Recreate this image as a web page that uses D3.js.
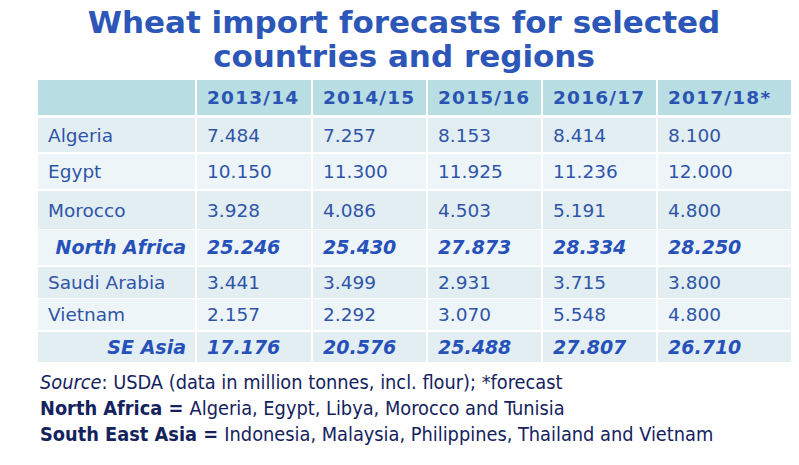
<!DOCTYPE html>
<html><head><meta charset="utf-8">
<script src="https://cdn.jsdelivr.net/npm/d3@7"></script>
<style>
html,body{margin:0;padding:0;background:#fff;}
svg{display:block;}
</style></head>
<body>
<script>
// ---- data ----
const title = ["Wheat import forecasts for selected", "countries and regions"];
const years = ["2013/14", "2014/15", "2015/16", "2016/17", "2017/18*"];
const rowLabels = ["Algeria", "Egypt", "Morocco", "North Africa", "Saudi Arabia", "Vietnam", "SE Asia"];
const totalRows = ["North Africa", "SE Asia"];
const algeria = ["7.484", "7.257", "8.153", "8.414", "8.100"];
const egypt = ["10.150", "11.300", "11.925", "11.236", "12.000"];
const morocco = ["3.928", "4.086", "4.503", "5.191", "4.800"];
const northAfrica = ["25.246", "25.430", "27.873", "28.334", "28.250"];
const saudiArabia = ["3.441", "3.499", "2.931", "3.715", "3.800"];
const vietnam = ["2.157", "2.292", "3.070", "5.548", "4.800"];
const seAsia = ["17.176", "20.576", "25.488", "27.807", "26.710"];
const footnotes = [
  [{t:"Source", s:"italic"}, {t:": USDA (data in million tonnes, incl. flour); *forecast"}],
  [{t:"North Africa = ", s:"bold"}, {t:"Algeria, Egypt, Libya, Morocco and Tunisia"}],
  [{t:"South East Asia = ", s:"bold"}, {t:"Indonesia, Malaysia, Philippines, Thailand and Vietnam"}]
];
const values = [algeria, egypt, morocco, northAfrica, saudiArabia, vietnam, seAsia];

// ---- layout ----
const W = 799, H = 465;
const colWidths = [158, 116, 115, 115, 115, 135];
const rowHeights = [35, 34, 35, 38, 35, 31, 31, 30]; // header + 7 rows
const rowGap = [0, 3, 2, 2, 1, 2, 1, 2];
const tableX = 38, tableY = 80;
const blue = "#2b54b2";

const svg = d3.select("body").append("svg").attr("width", W).attr("height", H);

// title
const bfont = "'DejaVu Sans',Verdana,sans-serif";
const cfont = "'DejaVu Sans Condensed','DejaVu Sans',sans-serif";
svg.append("g").selectAll("text").data(title).join("text")
  .attr("x", 404).attr("y", (d,i)=> 33 + i*34)
  .attr("text-anchor","middle")
  .attr("font-family", bfont).attr("font-weight","bold").attr("font-size", 31)
  .attr("fill", "#2c56b8").text(d=>d);

// column edges
const colEdges = [tableX];
colWidths.forEach(w => colEdges.push(colEdges[colEdges.length-1] + w));
const rowTops = [];
let yy = tableY;
rowHeights.forEach((h,i) => { yy += rowGap[i]; rowTops.push(yy); yy += h; });

const cols = ["label", ...years];
const x = d3.scaleOrdinal().domain(cols).range(colEdges.slice(0,-1));
const xw = d3.scaleOrdinal().domain(cols).range(colWidths);
const rowKeys = ["header", ...rowLabels];
const y = d3.scaleOrdinal().domain(rowKeys).range(rowTops);
const yh = d3.scaleOrdinal().domain(rowKeys).range(rowHeights);

const rowFill = (k,i) => k === "header" ? "#b8dee3" : (i % 2 === 1 ? "#e3eef2" : "#eef5f8");

const g = svg.append("g");
// cell backgrounds
rowKeys.forEach((rk, ri) => {
  g.selectAll(null).data(cols).join("rect")
    .attr("x", c => x(c) + (c === "label" ? 0 : 1))
    .attr("y", y(rk))
    .attr("width", c => xw(c) - (c === "label" ? 1 : 2))
    .attr("height", yh(rk))
    .attr("fill", rowFill(rk, ri));
});

// header text
g.selectAll(null).data(years).join("text")
  .attr("x", c => x(c) + 11)
  .attr("y", y("header") + yh("header")/2 + 6.5)
  .attr("font-family", bfont).attr("font-weight","bold").attr("font-size", 18.5)
  .attr("letter-spacing", 1.2)
  .attr("fill", blue).text(d=>d);

// body rows
rowLabels.forEach((rl, ri) => {
  const isTot = totalRows.includes(rl);
  const cy = y(rl) + yh(rl)/2 + 6.5;
  const fs = isTot ? 19 : 18.5;
  const col = isTot ? "#2651ba" : "#2f55a8";
  g.append("text")
    .attr("x", isTot ? x("label") + xw("label") - 10 : x("label") + 10)
    .attr("y", cy)
    .attr("text-anchor", isTot ? "end" : "start")
    .attr("font-family", bfont).attr("font-size", fs)
    .attr("font-weight", isTot ? "bold" : "normal")
    .attr("font-style", isTot ? "italic" : "normal")
    .attr("fill", col).text(rl);
  g.selectAll(null).data(years.map((yr,j)=>({yr, v: values[ri][j]}))).join("text")
    .attr("x", d => x(d.yr) + 11)
    .attr("y", cy)
    .attr("font-family", bfont).attr("font-size", fs)
    .attr("font-weight", isTot ? "bold" : "normal")
    .attr("font-style", isTot ? "italic" : "normal")
    .attr("fill", col).text(d => d.v);
});

// footnotes
const fg = svg.append("g");
footnotes.forEach((line, i) => {
  const t = fg.append("text").attr("x", 40).attr("y", 389 + i*26)
    .attr("font-family", cfont).attr("font-size", 19.8).attr("fill", "#14225e");
  line.forEach(p => {
    t.append("tspan").text(p.t)
      .attr("font-weight", p.s === "bold" ? "bold" : "normal")
      .attr("font-style", p.s === "italic" ? "italic" : "normal");
  });
});
</script>
</body></html>
